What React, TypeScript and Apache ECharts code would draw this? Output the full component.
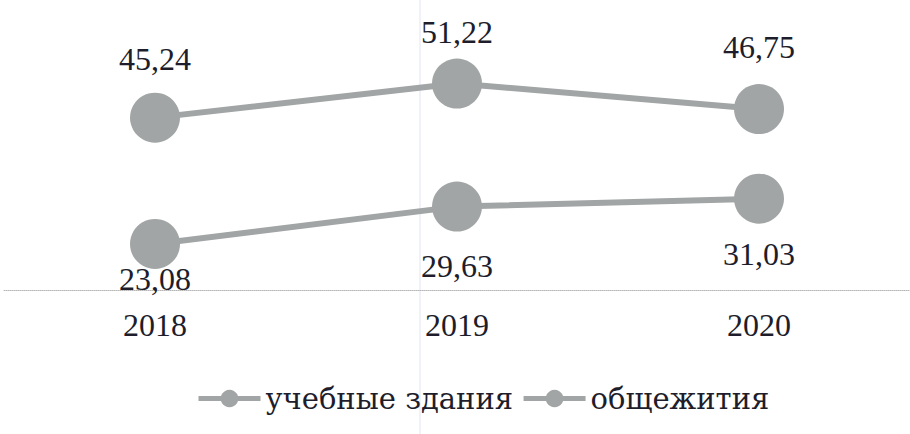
import React, { useEffect, useRef } from "react";
import * as echarts from "echarts";

const years = ["2018", "2019", "2020"];
const educational = [45.24, 51.22, 46.75];
const dormitories = [23.08, 29.63, 31.03];
const seriesNames = ["учебные здания", "общежития"];

const FONT = "Liberation Serif";
const LEGEND_FONT = "DejaVu Serif";
const TEXT = "#1d1d2b";
const GRAY = "#a2a5a5";

// label offsets (style only)
const topDist = [18, 11, 21];
const bottomDist = [-6, 18, 14];

export default function App() {
  const ref = useRef<HTMLDivElement>(null);
  useEffect(() => {
    if (!ref.current) return;
    const chart = echarts.init(ref.current, null, { renderer: "svg" });
    const fmt = (p: any) => Number(p.value).toFixed(2).replace(".", ",");
    const mkSeries = (name: string, data: number[], pos: "top" | "bottom", dists: number[]) => ({
      name,
      type: "line",
      data: data.map((v, i) => ({ value: v, label: { distance: dists[i] } })),
      symbol: "circle",
      symbolSize: 50,
      lineStyle: { color: GRAY, width: 6 },
      itemStyle: { color: GRAY },
      label: {
        show: true,
        position: pos,
        formatter: fmt,
        color: TEXT,
        fontFamily: FONT,
        fontSize: 32,
      },
    });
    chart.setOption({
      animation: false,
      backgroundColor: "#ffffff",
      textStyle: { fontFamily: FONT },
      grid: { left: 4, top: 62, width: 918, height: 228, containLabel: false },
      xAxis: {
        type: "category",
        data: years,
        boundaryGap: true,
        axisLine: { lineStyle: { color: "#b5b5b5", type: "dotted", width: 1 } },
        axisTick: { show: false },
        axisLabel: { color: TEXT, fontFamily: FONT, fontSize: 32, margin: 19 },
      },
      yAxis: { type: "value", min: 15, max: 55, show: false, splitLine: { show: false } },
      legend: {
        left: 191,
        top: 379,
        itemWidth: 62,
        itemHeight: 22,
        itemGap: 8,
        lineStyle: { width: 5, color: GRAY },
        textStyle: {
          color: TEXT,
          fontFamily: LEGEND_FONT,
          fontSize: 29,
        },
        data: seriesNames,
      },
      graphic: [
        {
          type: "line",
          shape: { x1: 420, y1: 0, x2: 420, y2: 434 },
          style: { stroke: "#dfe5f2", lineWidth: 1 },
          z: 0,
        },
      ],
      series: [
        mkSeries(seriesNames[0], educational, "top", topDist),
        mkSeries(seriesNames[1], dormitories, "bottom", bottomDist),
      ],
    });
    return () => chart.dispose();
  }, []);
  return (
    <div
      ref={ref}
      style={{ position: "absolute", left: 0, top: 0, width: 910, height: 434 }}
    />
  );
}
